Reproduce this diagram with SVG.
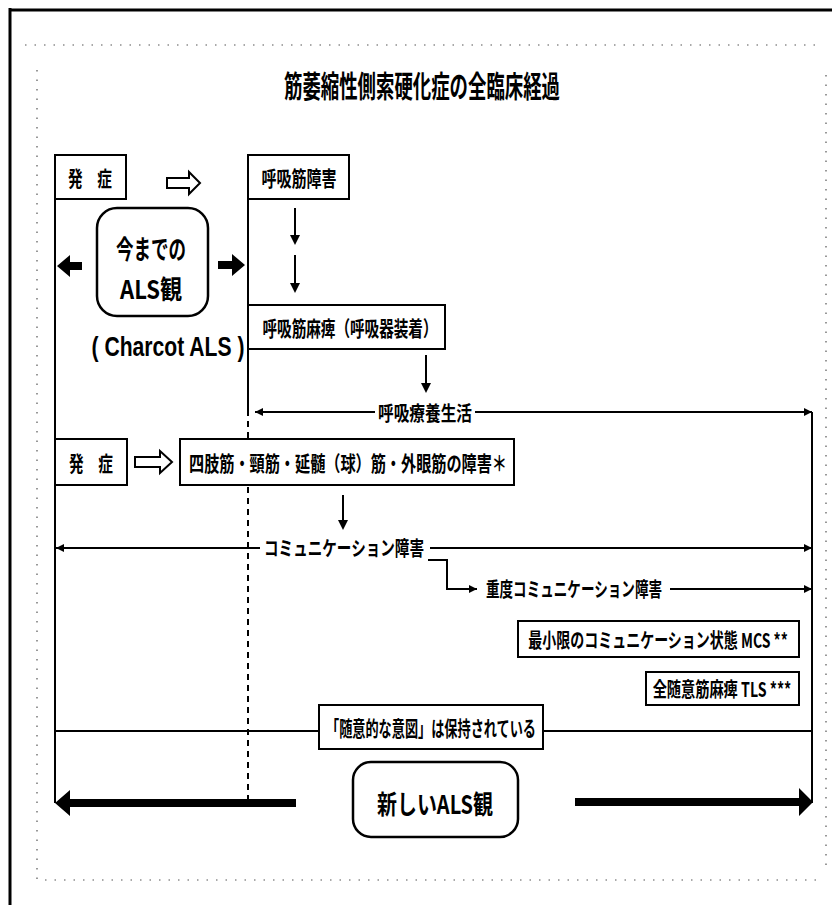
<svg xmlns="http://www.w3.org/2000/svg" width="840" height="905" viewBox="0 0 840 905">
<style>
.box{fill:#fff;stroke:#000;stroke-width:2}
.rbox{fill:#fff;stroke:#000;stroke-width:2.5}
.t{font-family:"Noto Sans CJK JP","Noto Sans",sans-serif;font-weight:700;fill:#000;text-anchor:middle;dominant-baseline:central}
.ln{stroke:#000;stroke-width:2;fill:none}
.ar{stroke:#000;stroke-width:2;fill:none;marker-end:url(#ah)}
.fill{fill:#000;stroke:none}
.hollow{fill:#fff;stroke:#000;stroke-width:2;stroke-linejoin:miter}
.frame{stroke:#000;stroke-width:3;fill:none}
.dots{stroke:#555;stroke-width:1.2;fill:none;stroke-dasharray:1.5 8}
</style>
<defs>
<marker id="ah" viewBox="0 0 10 10" refX="10" refY="5" markerWidth="8" markerHeight="9" markerUnits="userSpaceOnUse" orient="auto"><path d="M0,0 L10,5 L0,10 z" fill="#000"/></marker>
</defs>
<rect width="840" height="905" fill="#fff"/>
<g id="frame">
<line class="frame" x1="10" y1="8" x2="10" y2="905"/>
<line class="frame" x1="10" y1="10" x2="832" y2="10" stroke-width="2.5"/>
<line class="dots" x1="25" y1="45" x2="820" y2="45"/>
<line class="dots" x1="37" y1="70" x2="37" y2="880"/>
<line class="dots" x1="45" y1="880" x2="822" y2="880"/>
<line class="dots" x1="826" y1="75" x2="826" y2="872" stroke-dasharray="3 4"/>
</g>
<g id="title">
<text class="t" x="422" y="84" font-size="30" textLength="276" lengthAdjust="spacingAndGlyphs">筋萎縮性側索硬化症の全臨床経過</text>
</g>
<g id="connectors">
<line class="ln" x1="55" y1="155" x2="55" y2="803"/>
<line class="ln" x1="248" y1="155" x2="248" y2="410"/>
<line class="ln" x1="248" y1="410" x2="248" y2="800" stroke-dasharray="6 5"/>
<line class="ln" x1="812" y1="412" x2="812" y2="803"/>
<path class="hollow" d="M167,178 H189 V172 L200,183 L189,194 V188 H167 Z"/>
<path class="hollow" d="M135,457 H160 V451 L172,462 L160,473 V467 H135 Z"/>
<path class="fill" d="M82,262 H70 V255 L57,266 L70,277 V270 H82 Z"/>
<path class="fill" d="M218,261 H232 V254 L245,265 L232,276 V269 H218 Z"/>
<line class="ln" x1="295" y1="208" x2="295" y2="237" stroke-width="3"/>
<path class="fill" d="M290,235 H300 L295,245 Z"/>
<line class="ln" x1="295" y1="255" x2="295" y2="285" stroke-width="3"/>
<path class="fill" d="M290,283 H300 L295,293 Z"/>
<line class="ln" x1="426" y1="355" x2="426" y2="385" stroke-width="3"/>
<path class="fill" d="M421,383 H431 L426,393 Z"/>
<line class="ln" x1="343" y1="495" x2="343" y2="522" stroke-width="3"/>
<path class="fill" d="M338,520 H348 L343,530 Z"/>
<line class="ar" x1="375" y1="412" x2="255" y2="412"/>
<line class="ar" x1="475" y1="412" x2="812" y2="412"/>
<line class="ar" x1="260" y1="548" x2="56" y2="548"/>
<line class="ar" x1="430" y1="548" x2="812" y2="548"/>
<path class="ar" d="M428,560 H447 V589 H477"/>
<line class="ar" x1="670" y1="589" x2="812" y2="589"/>
<line class="ln" x1="55" y1="731" x2="319" y2="731"/>
<line class="ln" x1="543" y1="731" x2="812" y2="731"/>
<path class="fill" d="M296,799 H70 V790 L55,803 L70,816 V807 H296 Z"/>
<path class="fill" d="M575,798 H799 V788 L813,802 L799,816 V806 H575 Z"/>
</g>
<g id="onset1">
<rect class="box" x="55" y="155" width="71" height="44"/>
<text class="t" x="90" y="177" font-size="21" textLength="44" lengthAdjust="spacingAndGlyphs">発　症</text>
</g>
<g id="resp-impair">
<rect class="box" x="248" y="155" width="101" height="44"/>
<text class="t" x="299" y="177" font-size="21" textLength="75" lengthAdjust="spacingAndGlyphs">呼吸筋障害</text>
</g>
<g id="old-als">
<rect class="rbox" x="97" y="208" width="111" height="108" rx="20"/>
<text class="t" x="151" y="247" font-size="26" textLength="70" lengthAdjust="spacingAndGlyphs">今までの</text>
<text class="t" x="151" y="287" font-size="26" textLength="62" lengthAdjust="spacingAndGlyphs">ALS観</text>
</g>
<g id="charcot">
<text class="t" x="168" y="347" font-size="27" style="font-family:'Liberation Sans',Arial,sans-serif" textLength="153" lengthAdjust="spacingAndGlyphs">( Charcot ALS )</text>
</g>
<g id="resp-paralysis">
<rect class="box" x="248" y="305" width="197" height="44"/>
<text class="t" x="350" y="327" font-size="21" textLength="175" lengthAdjust="spacingAndGlyphs">呼吸筋麻痺（呼吸器装着）</text>
</g>
<g id="resp-life">
<text class="t" x="425" y="412" font-size="20" textLength="94" lengthAdjust="spacingAndGlyphs">呼吸療養生活</text>
</g>
<g id="onset2">
<rect class="box" x="55" y="439" width="72" height="46"/>
<text class="t" x="91" y="462" font-size="21" textLength="44" lengthAdjust="spacingAndGlyphs">発　症</text>
</g>
<g id="muscle-impair">
<rect class="box" x="180" y="439" width="334" height="46"/>
<text class="t" x="348" y="462" font-size="21" textLength="318" lengthAdjust="spacingAndGlyphs">四肢筋・頸筋・延髄（球）筋・外眼筋の障害＊</text>
</g>
<g id="comm-impair">
<text class="t" x="344" y="547" font-size="20" textLength="160" lengthAdjust="spacingAndGlyphs">コミュニケーション障害</text>
</g>
<g id="severe-comm">
<text class="t" x="574" y="588" font-size="20" textLength="176" lengthAdjust="spacingAndGlyphs">重度コミュニケーション障害</text>
</g>
<g id="mcs">
<rect class="box" x="518" y="621" width="281" height="36"/>
<text class="t" transform="translate(658,639) scale(0.70,1)" x="0" y="0" font-size="20">最小限のコミュニケーション状態 MCS **</text>
</g>
<g id="tls">
<rect class="box" x="646" y="672" width="153" height="33"/>
<text class="t" transform="translate(722,688) scale(0.71,1)" x="0" y="0" font-size="20">全随意筋麻痺 TLS ***</text>
</g>
<g id="intention">
<rect class="box" x="319" y="705" width="224" height="44"/>
<text class="t" x="431" y="727" font-size="21" textLength="210" lengthAdjust="spacingAndGlyphs">「随意的な意図」は保持されている</text>
</g>
<g id="new-als">
<rect class="rbox" x="353" y="762" width="165" height="75" rx="18"/>
<text class="t" x="435" y="802" font-size="26" textLength="116" lengthAdjust="spacingAndGlyphs">新しいALS観</text>
</g>
</svg>
